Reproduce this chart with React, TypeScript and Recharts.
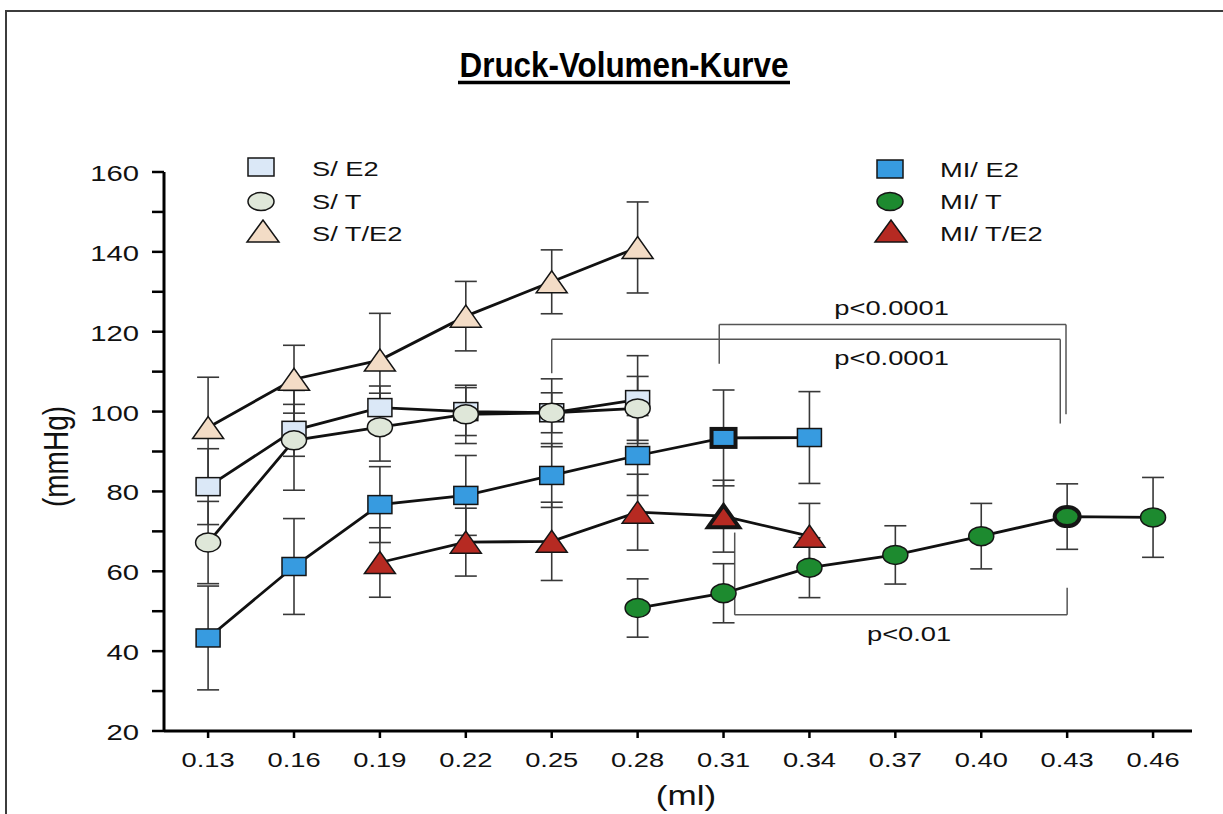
import React from 'react';
import {
  LineChart,
  Line,
  XAxis,
  YAxis,
  ErrorBar,
  ReferenceLine,
  ReferenceDot
} from 'recharts';

// volume steps (ml)
const volumes = [0.13, 0.16, 0.19, 0.22, 0.25, 0.28, 0.31, 0.34, 0.37, 0.4, 0.43, 0.46];
const yTicks = [20, 30, 40, 50, 60, 70, 80, 90, 100, 110, 120, 130, 140, 150, 160];

// sham groups (0.13 - 0.28)
const sE2Mean = [81.2, 95.3, 101, 100, 99.7, 103];
const sE2Sem = [9.5, 6.5, 5.4, 6, 8.5, 11];
const sTMean = [67.2, 92.8, 96.1, 99.3, 99.7, 100.8];
const sTSem = [10.3, 12.5, 8.5, 7.3, 5, 8];
const sTE2Mean = [96, 108.1, 112.9, 123.9, 132.5, 141.1];
const sTE2Sem = [12.6, 8.5, 11.7, 8.7, 8, 11.4];

// MI groups
const miE2Mean = [43.3, 61.2, 76.7, 79, 84, 89, 93.4, 93.5]; // from 0.13
const miE2Sem = [13, 12, 9.5, 10, 8, 10, 12, 11.5];
const miTE2Mean = [62.2, 67.3, 67.5, 74.8, 73.8, 68.8]; // from 0.19
const miTE2Sem = [8.7, 8.5, 9.8, 9.5, 9, 8.2];
const miTMean = [50.8, 54.5, 60.9, 64.1, 68.8, 73.7, 73.5]; // from 0.28
const miTSem = [7.3, 7.4, 7.5, 7.3, 8.2, 8.2, 10];

// last point before the volume limit, drawn with a heavy outline
const boldAt: Record<string, number> = { miE2: 0.31, miTE2: 0.31, miT: 0.43 };

// significance brackets (data coordinates)
const brackets = [
  { pts: [[0.3085, 112], [0.3085, 121.8], [0.4296, 121.8], [0.4296, 99.3]], label: 'p<0.0001', lx: 0.3687, ly: 124.2 },
  { pts: [[0.25, 109.6], [0.25, 118.1], [0.4276, 118.1], [0.4276, 97]], label: 'p<0.0001', lx: 0.3687, ly: 111.6 },
  { pts: [[0.3139, 69.7], [0.3139, 49.1], [0.43, 49.1], [0.43, 55.9]], label: 'p<0.01', lx: 0.3748, ly: 42.6 }
];

const FONT = '"Liberation Sans", Arial, Helvetica, sans-serif';
const SX = 1.3;

type Shape = 'square' | 'circle' | 'triangle';
type Pt = { x: number; y: number; err: number };

const toPoints = (start: number, mean: number[], sem: number[]): Pt[] =>
  mean.map((m, i) => ({ x: volumes[start + i], y: m, err: sem[i] }));

const series = [
  { key: 'sTE2', name: 'S/ T/E2', shape: 'triangle' as Shape, fill: '#f3dcc6', data: toPoints(0, sTE2Mean, sTE2Sem) },
  { key: 'sE2', name: 'S/ E2', shape: 'square' as Shape, fill: '#dbe8f7', data: toPoints(0, sE2Mean, sE2Sem) },
  { key: 'sT', name: 'S/ T', shape: 'circle' as Shape, fill: '#dfe7d9', data: toPoints(0, sTMean, sTSem) },
  { key: 'miE2', name: 'MI/ E2', shape: 'square' as Shape, fill: '#379be0', data: toPoints(0, miE2Mean, miE2Sem) },
  { key: 'miT', name: 'MI/ T', shape: 'circle' as Shape, fill: '#1d8a2f', data: toPoints(5, miTMean, miTSem) },
  { key: 'miTE2', name: 'MI/ T/E2', shape: 'triangle' as Shape, fill: '#b62a22', data: toPoints(2, miTE2Mean, miTE2Sem) }
];

const Marker = ({ shape, cx, cy, fill, bold, w, h }: any) => {
  const stroke = '#151515';
  const sw = bold ? 4 : 1.5;
  if (shape === 'square') {
    return <rect x={cx - w / 2} y={cy - h / 2} width={w} height={h} fill={fill} stroke={stroke} strokeWidth={sw} />;
  }
  if (shape === 'circle') {
    return <ellipse cx={cx} cy={cy} rx={w / 2} ry={h / 2} fill={fill} stroke={stroke} strokeWidth={sw} />;
  }
  const pts = `${cx - w / 2},${cy + h / 2} ${cx + w / 2},${cy + h / 2} ${cx},${cy - h / 2}`;
  return <polygon points={pts} fill={fill} stroke={stroke} strokeWidth={sw} strokeLinejoin="miter" />;
};

const markerSize = (shape: Shape) =>
  shape === 'square' ? { w: 24, h: 18 } : shape === 'circle' ? { w: 25, h: 19 } : { w: 31, h: 22 };

const dotFor = (key: string, shape: Shape, fill: string) => (props: any) => {
  const { cx, cy, payload, index } = props;
  if (cx == null || cy == null) return <g key={`${key}-${index}`} />;
  const bold = boldAt[key] !== undefined && Math.abs(payload.x - boldAt[key]) < 0.001;
  return <Marker key={`${key}-${index}`} shape={shape} cx={cx} cy={cy} fill={fill} bold={bold} {...markerSize(shape)} />;
};

const XTick = ({ x, y, payload }: any) => (
  <text transform={`translate(${x},${y + 23}) scale(${SX},1)`} textAnchor="middle" fontSize={21} fontFamily={FONT} fill="#111">
    {Number(payload.value).toFixed(2)}
  </text>
);

const YTick = ({ x, y, payload }: any) => {
  if (payload.value % 20 !== 0) return <g />;
  return (
    <text transform={`translate(${x},${y + 9}) scale(1.33,1)`} textAnchor="end" fontSize={22} fontFamily={FONT} fill="#111">
      {payload.value}
    </text>
  );
};

const PLabel = (text: string) => (props: any) => (
  <text transform={`translate(${props.cx},${props.cy}) scale(${SX},1)`} textAnchor="middle" fontSize={21} fontFamily={FONT} fill="#111">
    {text}
  </text>
);

const legendLeft = [
  { name: 'S/ E2', shape: 'square' as Shape, fill: '#dbe8f7', cx: 261, cy: 167, ty: 176 },
  { name: 'S/ T', shape: 'circle' as Shape, fill: '#dfe7d9', cx: 261, cy: 201.5, ty: 209 },
  { name: 'S/ T/E2', shape: 'triangle' as Shape, fill: '#f3dcc6', cx: 263, cy: 231, ty: 241 }
];
const legendRight = [
  { name: 'MI/ E2', shape: 'square' as Shape, fill: '#379be0', cx: 890, cy: 169, ty: 177 },
  { name: 'MI/ T', shape: 'circle' as Shape, fill: '#1d8a2f', cx: 890, cy: 201.5, ty: 209 },
  { name: 'MI/ T/E2', shape: 'triangle' as Shape, fill: '#b62a22', cx: 891, cy: 231, ty: 241 }
];

export default function App() {
  return (
    <div style={{ position: 'absolute', left: 0, top: 0, width: 1223, height: 814, overflow: 'hidden', background: '#fff' }}>
      <div style={{ position: 'absolute', left: 5, top: 10, width: 1400, height: 1000, border: '2.5px solid #3c3c3c' }} />
      <div style={{ position: 'absolute', left: 0, top: 0 }}>
        <LineChart width={1223} height={814} margin={{ top: 172, right: 31, left: 104, bottom: 53 }}>
          <XAxis
            type="number"
            dataKey="x"
            domain={[0.1146, 0.4736]}
            allowDataOverflow
            ticks={volumes}
            interval={0}
            height={30}
            tickSize={7}
            tickMargin={6}
            tick={<XTick />}
            axisLine={{ stroke: '#000', strokeWidth: 3 }}
            tickLine={{ stroke: '#000', strokeWidth: 2.5 }}
          />
          <YAxis
            type="number"
            dataKey="y"
            domain={[20, 160]}
            allowDataOverflow
            ticks={yTicks}
            interval={0}
            width={60}
            tickSize={12}
            tickMargin={13}
            tick={<YTick />}
            axisLine={{ stroke: '#000', strokeWidth: 3 }}
            tickLine={{ stroke: '#000', strokeWidth: 2.5 }}
          />
          {brackets.map((b, bi) =>
            b.pts.slice(1).map((p, i) => (
              <ReferenceLine
                key={`br-${bi}-${i}`}
                segment={[{ x: b.pts[i][0], y: b.pts[i][1] }, { x: p[0], y: p[1] }]}
                stroke="#555"
                strokeWidth={1.5}
                ifOverflow="visible"
              />
            ))
          )}
          {brackets.map((b, bi) => (
            <ReferenceDot key={`pl-${bi}`} x={b.lx} y={b.ly} r={0} ifOverflow="visible" shape={PLabel(b.label)} />
          ))}
          {series.map((s) => (
            <Line
              key={s.key}
              data={s.data}
              dataKey="y"
              type="linear"
              stroke="#111"
              strokeWidth={2.8}
              dot={dotFor(s.key, s.shape, s.fill)}
              activeDot={false}
              isAnimationActive={false}
            >
              <ErrorBar dataKey="err" direction="y" width={11} stroke="#383838" strokeWidth={1.6} />
            </Line>
          ))}
        </LineChart>
      </div>
      <svg width={1223} height={814} style={{ position: 'absolute', left: 0, top: 0, pointerEvents: 'none' }}>
        <text transform="translate(624,76.7) scale(0.91,1)" textAnchor="middle" fontSize={34.5} fontWeight="bold" fontFamily={FONT} fill="#000">
          Druck-Volumen-Kurve
        </text>
        <line x1={458} x2={790} y1={82.5} y2={82.5} stroke="#000" strokeWidth={3.5} />
        {[...legendLeft, ...legendRight].map((l) => (
          <g key={l.name}>
            <Marker shape={l.shape} cx={l.cx} cy={l.cy} fill={l.fill} bold={false} w={l.shape === 'triangle' ? 32 : 26} h={l.shape === 'triangle' ? 22 : 18} />
            <text
              transform={`translate(${l.cx < 500 ? 312 : 940},${l.ty}) scale(${SX},1)`}
              fontSize={21}
              fontFamily={FONT}
              fill="#111"
            >
              {l.name}
            </text>
          </g>
        ))}
        <text transform="translate(68,456.5) rotate(-90) scale(1,1.28)" textAnchor="middle" fontSize={28} fontFamily={FONT} fill="#111">
          (mmHg)
        </text>
        <text transform="translate(686,805) scale(1.3,1)" textAnchor="middle" fontSize={27} fontFamily={FONT} fill="#111">
          (ml)
        </text>
      </svg>
    </div>
  );
}
